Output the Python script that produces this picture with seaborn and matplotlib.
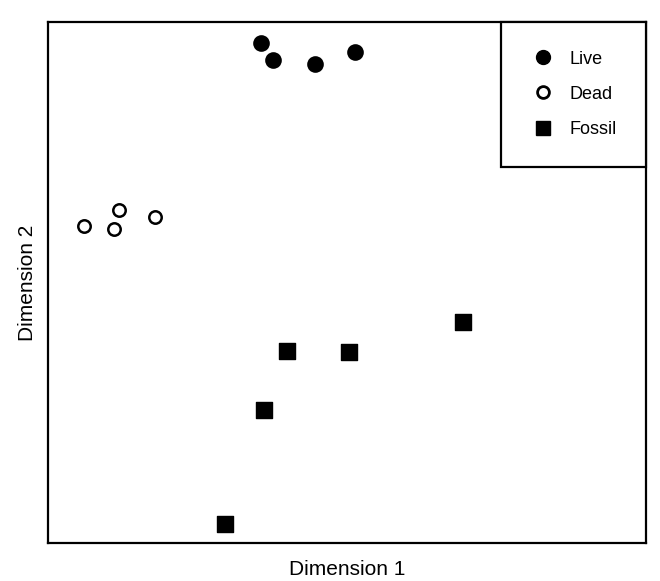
import matplotlib
matplotlib.use("Agg")
import matplotlib.pyplot as plt
import seaborn as sns
import pandas as pd
from matplotlib.lines import Line2D

sns.set_style("white")
plt.rcParams['font.family'] = ['Liberation Sans', 'DejaVu Sans']
plt.rcParams['text.color'] = 'black'
plt.rcParams['axes.labelcolor'] = 'black'

live_x = [261, 273, 315, 355]
live_y = [43, 60, 64, 52]
dead_x = [84, 114, 119, 155]
dead_y = [226, 229, 210, 217]
fossil_x = [463, 287, 349, 264, 225]
fossil_y = [322, 351, 352, 410, 524]
groups = ["Live", "Dead", "Fossil"]

df = pd.DataFrame({
    "x": live_x + dead_x + fossil_x,
    "y": live_y + dead_y + fossil_y,
    "group": ["Live"] * len(live_x) + ["Dead"] * len(dead_x) + ["Fossil"] * len(fossil_x),
})

fig = plt.figure(figsize=(6.6, 5.81), dpi=100)
ax = fig.add_axes([0.0727, 0.0654, 0.906, 0.897])

styles = {
    "Live": dict(marker="o", facecolor="black", edgecolor="black", s=110, linewidth=1.5),
    "Dead": dict(marker="o", facecolor="white", edgecolor="black", s=80, linewidth=1.8),
    "Fossil": dict(marker="s", facecolor="black", edgecolor="black", s=120, linewidth=1),
}
for g in groups:
    sub = df[df.group == g]
    st = styles[g]
    sns.scatterplot(data=sub, x="x", y="y", ax=ax, marker=st["marker"], s=st["s"],
                    color=st["facecolor"], edgecolor=st["edgecolor"], linewidth=st["linewidth"],
                    legend=False, zorder=3)

ax.set_xlim(48, 646)
ax.set_ylim(543, 22)
ax.set_xticks([])
ax.set_yticks([])
for sp in ax.spines.values():
    sp.set_color("black")
    sp.set_linewidth(1.6)
ax.set_xlabel("Dimension 1", fontsize=15, labelpad=12)
ax.set_ylabel("Dimension 2", fontsize=15, labelpad=8)

handles = [
    Line2D([], [], marker="o", linestyle="", markerfacecolor="black", markeredgecolor="black", markersize=10),
    Line2D([], [], marker="o", linestyle="", markerfacecolor="white", markeredgecolor="black", markersize=8.5, markeredgewidth=2),
    Line2D([], [], marker="s", linestyle="", markerfacecolor="black", markeredgecolor="black", markersize=9.5),
]
leg = ax.legend(handles, groups, loc="upper right", borderaxespad=0, frameon=True,
                fancybox=False, fontsize=13, labelspacing=1.0, borderpad=1.6,
                handletextpad=0.8, handlelength=1.4)
leg.get_frame().set_edgecolor("black")
leg.get_frame().set_linewidth(1.6)
leg.get_frame().set_alpha(1)

fig.savefig("out.png", dpi=100)
